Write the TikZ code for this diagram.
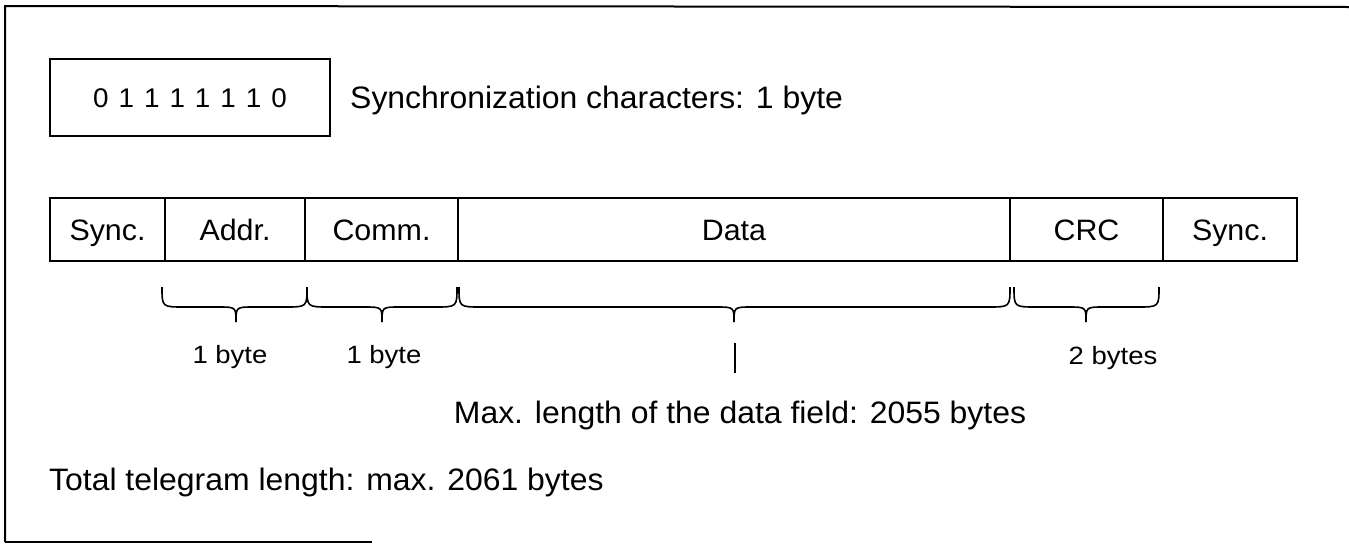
\documentclass[tikz,border=0pt]{standalone}
\usepackage{fontspec}
\setmainfont{Liberation Sans}[FakeStretch=1.03]
\newfontfamily\smallf{Liberation Sans}[FakeStretch=1.1]
\begin{document}
\begin{tikzpicture}[x=1pt,y=-1pt,
  frameline/.style={line width=2pt},
  field/.style={draw, line width=2pt, minimum height=63pt, inner sep=0pt,
     text height=21pt, text depth=0pt, font=\fontsize{29.5}{34}\selectfont},
  bigtext/.style={anchor=base west, inner sep=0pt, font=\fontsize{31}{36}\selectfont},
  smalltext/.style={anchor=base, inner sep=0pt, font=\smallf\fontsize{25}{29}\selectfont},
  bracestyle/.style={line width=1.6pt}]
\useasboundingbox (0,0) rectangle (1349,544);
% outer frame (partial, as printed)
\draw[frameline] (5,542) -- (5,6) -- (1349,7);
\draw[frameline] (5,542) -- (372,542);
% synchronization character box
\node[draw, line width=2pt, minimum width=280pt, minimum height=77pt, inner sep=0pt,
      text height=19pt, text depth=0pt, font=\fontsize{27}{31}\selectfont]
      (pattern) at (190,97.5)
      {0\hspace{10pt}1\hspace{10pt}1\hspace{10pt}1\hspace{10pt}1\hspace{10pt}1\hspace{10pt}1\hspace{10pt}0};
\node[bigtext] (synclabel) at (350,108) {Synchronization characters: 1 byte};
% telegram fields
\node[field, minimum width=115pt] (sync1) at (107.5,229.5) {Sync.};
\node[field, minimum width=140pt] (addr)  at (235,229.5)   {Addr.};
\node[field, minimum width=153pt] (comm)  at (381.5,229.5) {Comm.};
\node[field, minimum width=552pt] (data)  at (734,229.5)   {Data};
\node[field, minimum width=153pt] (crc)   at (1086.5,229.5){CRC};
\node[field, minimum width=134pt] (sync2) at (1230,229.5)  {Sync.};
% braces
\newcommand\mybrace[3]{%
  \draw[bracestyle] (#1,287) .. controls (#1,307) .. (#1+22,307) -- (#3-18,307)
    .. controls (#3,307) .. (#3,322) .. controls (#3,307) .. (#3+18,307)
    -- (#2-22,307) .. controls (#2,307) .. (#2,287);}
\mybrace{162}{307}{236}
\mybrace{307}{457}{382}
\mybrace{459}{1010}{734}
\mybrace{1014}{1159}{1086}
% labels under braces
\node[smalltext] (l1) at (230,363) {1 byte};
\node[smalltext] (l2) at (384,363) {1 byte};
\node[smalltext] (l3) at (1113,364) {2 bytes};
\coordinate (ticktop) at (735,343);
\coordinate (tickbot) at (735,373);
\draw[line width=1.8pt] (ticktop) -- (tickbot);
\node[bigtext, anchor=base] (maxlen) at (740,423) {Max. length of the data field: 2055 bytes};
\node[bigtext] (total) at (49,490) {Total telegram length: max. 2061 bytes};
\end{tikzpicture}
\end{document}
